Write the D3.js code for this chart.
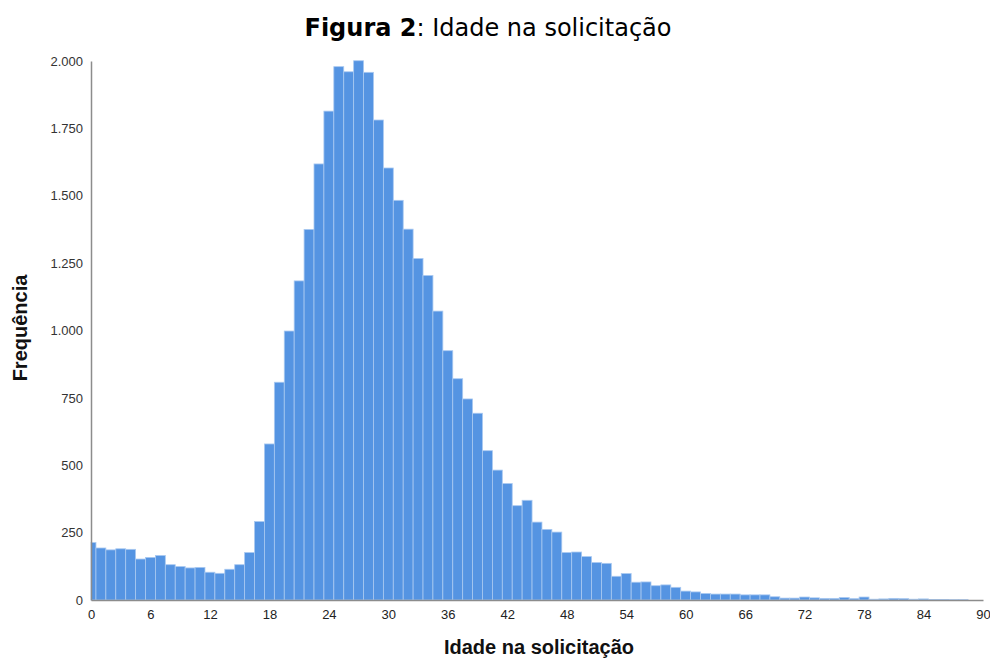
<!DOCTYPE html>
<html>
<head>
<meta charset="utf-8">
<script src="https://cdn.jsdelivr.net/npm/d3@7"></script>
<style>
  body { margin: 0; background: #fff; }
  svg { display: block; }
</style>
</head>
<body>
<div id="chart"></div>
<script>
// idade (anos) e frequência de cada barra
const ages = [0, 1, 2, 3, 4, 5, 6, 7, 8, 9, 10, 11, 12, 13, 14, 15, 16, 17, 18, 19,
    20, 21, 22, 23, 24, 25, 26, 27, 28, 29, 30, 31, 32, 33, 34, 35, 36, 37, 38, 39,
    40, 41, 42, 43, 44, 45, 46, 47, 48, 49, 50, 51, 52, 53, 54, 55, 56, 57, 58, 59,
    60, 61, 62, 63, 64, 65, 66, 67, 68, 69, 70, 71, 72, 73, 74, 75, 76, 77, 78, 79,
    80, 81, 82, 83, 84, 85, 86, 87, 88];
const frequencies = [213, 193, 186, 190, 188, 152, 158, 165, 131, 124, 119, 121, 103, 99, 114, 131, 176, 291, 579, 808,
    998, 1184, 1375, 1618, 1814, 1979, 1960, 2001, 1958, 1781, 1603, 1483, 1376, 1267, 1204, 1072, 925, 821, 746, 693,
    554, 482, 432, 350, 370, 289, 262, 252, 176, 178, 161, 139, 136, 88, 98, 66, 67, 53, 56, 47,
    33, 30, 24, 22, 22, 22, 19, 19, 19, 12, 7, 7, 11, 8, 6, 6, 9, 5, 11, 3,
    4, 6, 5, 3, 4, 2, 2, 1, 1];
const xTicks = [0, 6, 12, 18, 24, 30, 36, 42, 48, 54, 60, 66, 72, 78, 84, 90];
const yTicks = [0, 250, 500, 750, 1000, 1250, 1500, 1750, 2000];

const width = 990;
const height = 659;
const margin = { top: 61, right: 7, bottom: 59, left: 91 };

const ptBR = d3.formatLocale({ decimal: ",", thousands: ".", grouping: [3], currency: ["R$", ""] });
const fmt = ptBR.format(",d");

const svg = d3.select("#chart")
    .append("svg")
    .attr("width", width)
    .attr("height", height);

const x = d3.scaleLinear()
    .domain([0, 90])
    .range([margin.left, width - margin.right]);

const y = d3.scaleLinear()
    .domain([0, 2000])
    .range([height - margin.bottom, margin.top]);

const data = ages.map((a, i) => ({ age: a, freq: frequencies[i] }));

// barras centradas na idade, cortadas nos limites do eixo
svg.append("g")
    .selectAll("rect")
    .data(data)
    .enter()
    .append("rect")
    .attr("x", d => x(Math.max(0, d.age - 0.5)))
    .attr("width", d => x(Math.min(90, d.age + 0.5)) - x(Math.max(0, d.age - 0.5)))
    .attr("y", d => y(d.freq))
    .attr("height", d => y(0) - y(d.freq))
    .attr("fill", "#5594e2")
    .attr("stroke", "#a9c9f1")
    .attr("stroke-width", 0.8);

// eixo y
const yAxis = svg.append("g")
    .attr("transform", `translate(${margin.left},0)`)
    .call(d3.axisLeft(y).tickValues(yTicks).tickFormat(fmt).tickSize(0).tickPadding(8));
yAxis.select(".domain").attr("stroke", "#8c8c8c").attr("stroke-width", 1.5);
yAxis.selectAll("text")
    .style("font-family", "Arial, 'Liberation Sans', sans-serif")
    .style("font-size", "13px")
    .attr("fill", "#333");

// eixo x
const xAxis = svg.append("g")
    .attr("transform", `translate(0,${y(0)})`)
    .call(d3.axisBottom(x).tickValues(xTicks).tickSize(0).tickPadding(10));
xAxis.select(".domain").attr("stroke", "#8c8c8c").attr("stroke-width", 1.5);
xAxis.selectAll("text")
    .style("font-family", "Arial, 'Liberation Sans', sans-serif")
    .style("font-size", "13px")
    .attr("fill", "#222");

// títulos
const title = svg.append("text")
    .attr("x", 488)
    .attr("y", 36)
    .attr("text-anchor", "middle")
    .style("font-family", "'DejaVu Sans', Verdana, sans-serif")
    .style("font-size", "24px")
    .attr("fill", "#000");
title.append("tspan").style("font-weight", "bold").text("Figura 2");
title.append("tspan").text(": Idade na solicitação");

svg.append("text")
    .attr("x", 539)
    .attr("y", 654)
    .attr("text-anchor", "middle")
    .style("font-family", "Arial, 'Liberation Sans', sans-serif")
    .style("font-size", "20px")
    .style("font-weight", "bold")
    .attr("fill", "#111")
    .text("Idade na solicitação");

svg.append("text")
    .attr("transform", "translate(27,328) rotate(-90)")
    .attr("text-anchor", "middle")
    .style("font-family", "Arial, 'Liberation Sans', sans-serif")
    .style("font-size", "20px")
    .style("font-weight", "bold")
    .attr("fill", "#111")
    .text("Frequência");
</script>
</body>
</html>
